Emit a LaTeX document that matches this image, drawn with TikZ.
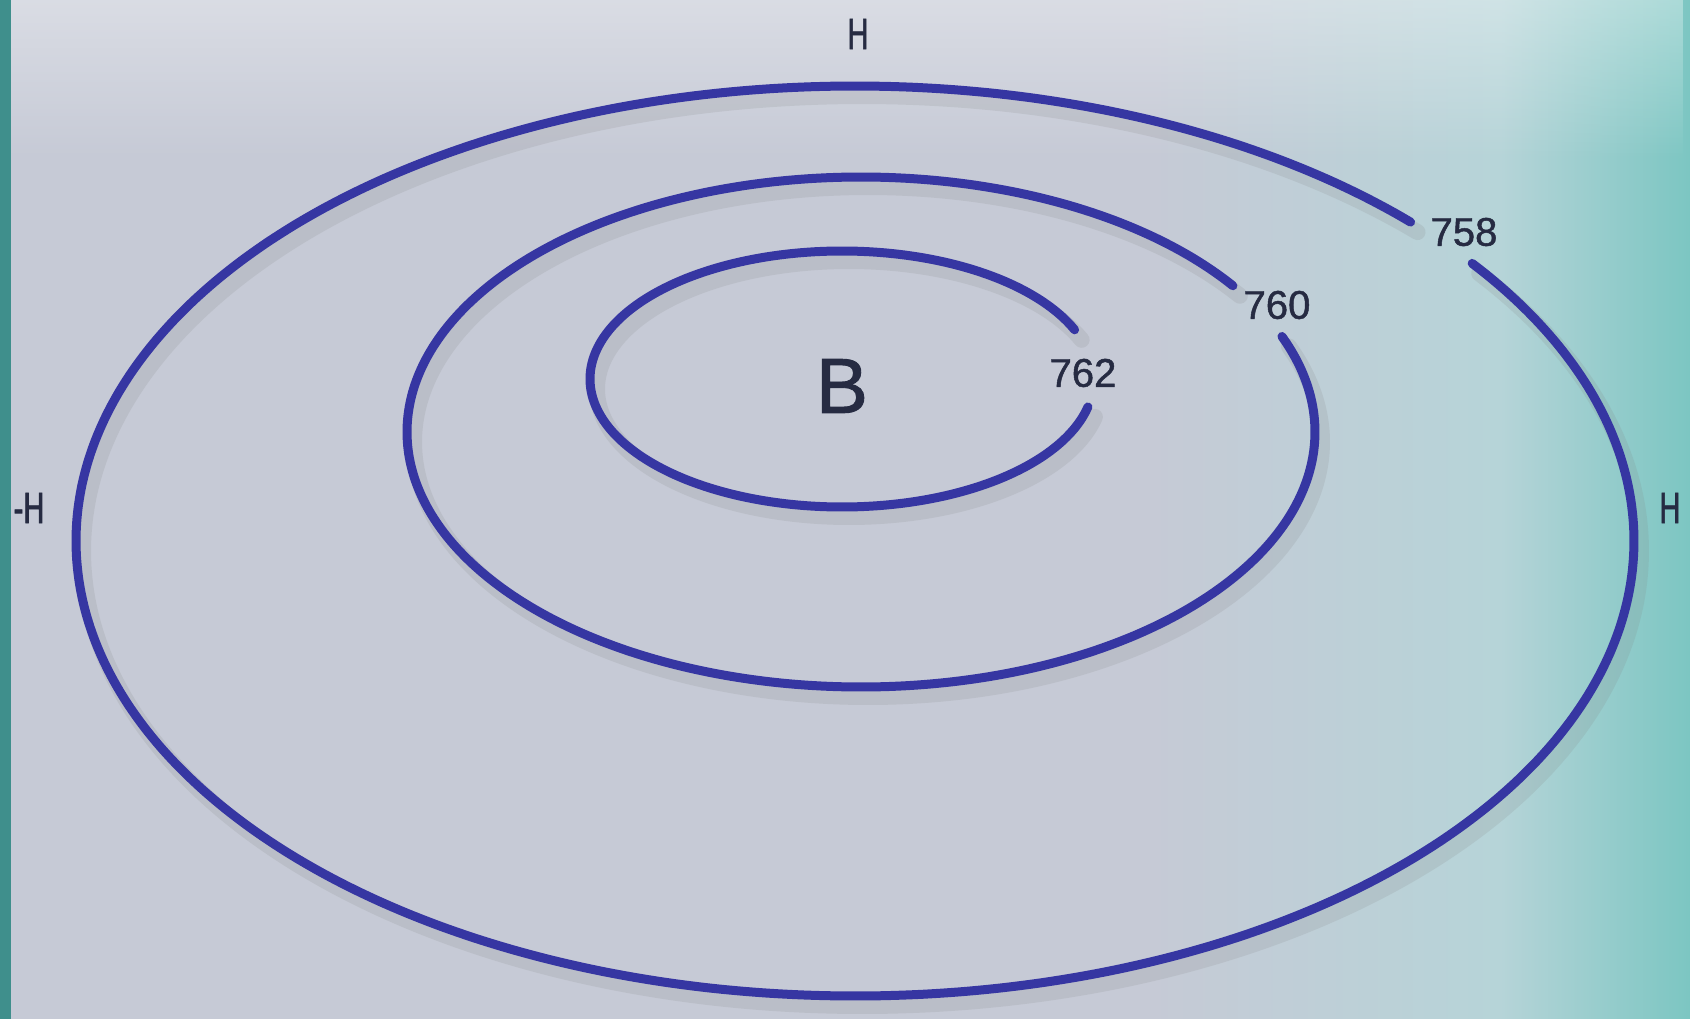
\documentclass[tikz,border=0pt]{standalone}
\usepackage{fontspec}
\usetikzlibrary{fadings}
\setmainfont{Liberation Sans}
\newfontfamily\hfont[FakeStretch=0.66, FakeBold=1.5]{Liberation Sans}
\newfontfamily\numfont[FakeBold=1.2]{Liberation Sans}
\definecolor{bgA}{HTML}{C6CAD6}
\definecolor{bgB}{HTML}{B6D4D8}
\definecolor{bgC}{HTML}{7CC6C2}
\definecolor{strip}{HTML}{3F8F8C}
\definecolor{iso}{HTML}{3636A2}
\definecolor{txt}{HTML}{262B42}
\tikzset{
  isoline/.style={draw=iso, line width=9pt, line cap=round},
  isoshadow/.style={draw=black!50, line width=16pt, opacity=0.16, line cap=round},
  numlabel/.style={text=txt, font=\numfont\fontsize{40}{44}\selectfont, inner sep=0pt},
  hlabel/.style={text=txt, font=\hfont\fontsize{44}{48}\selectfont, inner sep=0pt},
}
\begin{document}
\begin{tikzpicture}[x=1pt, y=-1pt]
  \useasboundingbox (0,0) rectangle (1690,1019);
  \fill[bgA] (0,0) rectangle (1690,1019);
  \shade[left color=bgA, right color=bgB] (1150,0) rectangle (1500,1019);
  \shade[left color=bgB, right color=bgC] (1500,0) rectangle (1690,1019);
  \fill[white, opacity=0.35, path fading=south] (0,0) rectangle (1690,160);
  \fill[strip] (0,0) rectangle (11,1019);
  % shadows
  \begin{scope}[shift={(7,10)}]
    \draw[isoshadow] plot[domain=-37.6:315.5, samples=240, smooth] ({855+779*cos(\x)}, {541+455*sin(\x)});
    \draw[isoshadow] plot[domain=-22:325, samples=200, smooth] ({861+454*cos(\x)}, {432+255*sin(\x)});
    \draw[isoshadow] plot[domain=12.6:337.4, samples=160, smooth] ({842+252*cos(\x)}, {379+128*sin(\x)});
  \end{scope}
  % isobars
  \draw[isoline] plot[domain=-37.6:315.5, samples=240, smooth] ({855+779*cos(\x)}, {541+455*sin(\x)});
  \draw[isoline] plot[domain=-22:325, samples=200, smooth] ({861+454*cos(\x)}, {432+255*sin(\x)});
  \draw[isoline] plot[domain=12.6:337.4, samples=160, smooth] ({842+252*cos(\x)}, {379+128*sin(\x)});
  % labels
  \node[numlabel] (l758) at (1464,232) {758};
  \node[numlabel] (l760) at (1277,305) {760};
  \node[numlabel] (l762) at (1083,373) {762};
  \node[text=txt, font=\numfont\fontsize{78}{80}\selectfont, inner sep=0pt] (b) at (842,386) {B};
  \node[hlabel] (htop) at (858,34) {H};
  \node[hlabel] (hleft) at (29,508) {-H};
  \node[hlabel] (hright) at (1670,508) {H};
\end{tikzpicture}
\end{document}
